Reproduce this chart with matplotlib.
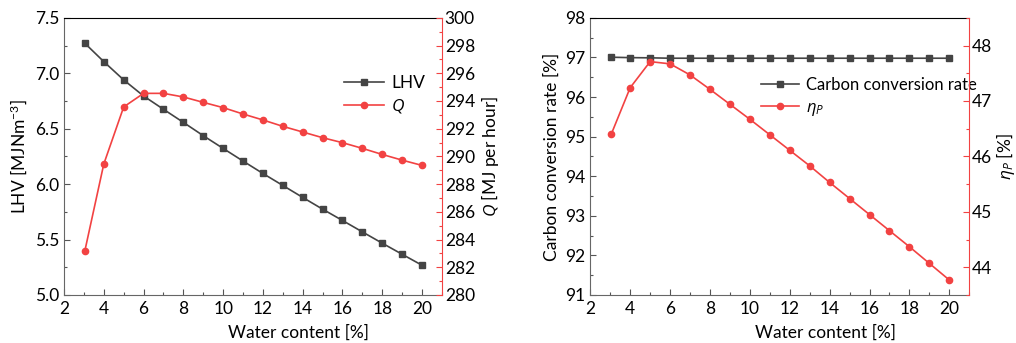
import numpy as np
import matplotlib.pyplot as plt
from matplotlib.ticker import MultipleLocator

plt.rcParams['font.family'] = ['Lato', 'DejaVu Sans']
plt.rcParams['mathtext.fontset'] = 'custom'
plt.rcParams['mathtext.it'] = 'Open Sans:italic'
plt.rcParams['mathtext.rm'] = 'Lato'

# water content [%]
water = [3.05, 4, 5, 6, 7, 8, 9, 10, 11, 12, 13, 14, 15, 16, 17, 18, 19, 20]

lhv = [7.27, 7.105, 6.94, 6.795, 6.675, 6.557, 6.437, 6.322, 6.208, 6.096,
       5.988, 5.88, 5.774, 5.672, 5.569, 5.467, 5.367, 5.268]
q_heat = [283.2, 289.45, 293.57, 294.55, 294.55, 294.29, 293.9, 293.52, 293.06,
          292.63, 292.17, 291.76, 291.35, 290.99, 290.58, 290.14, 289.73, 289.35]

carbon = [97.005, 96.995, 96.99, 96.98, 96.98, 96.98, 96.98, 96.98, 96.98,
          96.98, 96.98, 96.98, 96.98, 96.98, 96.98, 96.98, 96.98, 96.98]
eta_p = [46.40, 47.24, 47.71, 47.67, 47.47, 47.21, 46.94, 46.67, 46.39, 46.11,
         45.83, 45.53, 45.24, 44.95, 44.66, 44.37, 44.07, 43.77]

dark = '#444444'
red = '#f24242'
fs = 12.5

fig = plt.figure(figsize=(10.16, 3.43), dpi=100)
axL = fig.add_axes([0.063, 0.140, 0.372, 0.808])
axR = fig.add_axes([0.581, 0.140, 0.373, 0.808])


def style(ax, ax2):
    for a in (ax, ax2):
        a.tick_params(direction='in', labelsize=fs, length=4, width=0.8)
        a.tick_params(which='minor', direction='in', length=2.5, width=0.8)
    ax.set_xlim(2, 21)
    ax.xaxis.set_major_locator(MultipleLocator(2))
    ax.xaxis.set_minor_locator(MultipleLocator(1))
    ax.tick_params(axis='x', pad=4)
    ax2.tick_params(axis='y', pad=2)
    for s in ('left', 'bottom'):
        ax.spines[s].set_color('#666666')
    ax.spines['top'].set_color('black')
    ax.spines['right'].set_visible(False)
    for s in ('left', 'bottom', 'top'):
        ax2.spines[s].set_visible(False)
    ax2.spines['right'].set_color(red)
    ax2.tick_params(axis='y', which='both', color=red)
    ax.tick_params(axis='both', which='both', color='#555555')
    ax.set_xlabel('Water content [%]', fontsize=fs)
    ax.xaxis.set_label_coords(0.62, -0.105)


# left panel
axL2 = axL.twinx()
l1, = axL.plot(water, lhv, '-s', color=dark, ms=4.5, lw=1.2)
l2, = axL2.plot(water, q_heat, '-o', color=red, ms=4.5, lw=1.2)
axL.set_ylim(5.0, 7.5)
axL.yaxis.set_major_locator(MultipleLocator(0.5))
axL.yaxis.set_minor_locator(MultipleLocator(0.25))
axL.yaxis.set_major_formatter(lambda v, p: f'{v:.1f}')
axL2.set_ylim(280, 300)
axL2.yaxis.set_major_locator(MultipleLocator(2))
axL2.yaxis.set_minor_locator(MultipleLocator(1))
axL.set_ylabel('LHV [MJNm$^{-3}$]', fontsize=fs, labelpad=4)
axL2.set_ylabel('$\\mathit{Q}$ [MJ per hour]', fontsize=fs, labelpad=3)
style(axL, axL2)
axL.legend([l1, l2], ['LHV', '$\\mathit{Q}$'], loc='upper left',
           bbox_to_anchor=(0.70, 0.85), frameon=False, fontsize=fs,
           handlelength=2.3, handletextpad=0.4, labelspacing=0.35)

# right panel
axR2 = axR.twinx()
r1, = axR.plot(water, carbon, '-s', color=dark, ms=4.5, lw=1.2)
r2, = axR2.plot(water, eta_p, '-o', color=red, ms=4.5, lw=1.2)
axR.set_ylim(91, 98)
axR.yaxis.set_major_locator(MultipleLocator(1))
axR.yaxis.set_minor_locator(MultipleLocator(0.5))
axR2.set_ylim(43.5, 48.5)
axR2.yaxis.set_major_locator(MultipleLocator(1))
axR2.yaxis.set_minor_locator(MultipleLocator(0.5))
axR.set_ylabel('Carbon conversion rate [%]', fontsize=fs, labelpad=4)
axR2.set_ylabel('$\\mathit{\\eta}_{\\mathit{P}}$ [%]', fontsize=fs, labelpad=1)
style(axR, axR2)
axR.legend([r1, r2], ['Carbon conversion rate', '$\\mathit{\\eta}_{\\mathit{P}}$'],
           loc='upper left', bbox_to_anchor=(0.41, 0.84), frameon=False,
           fontsize=12, handlelength=2.3, handletextpad=0.4, labelspacing=0.35)

fig.savefig('out.png', dpi=100)
